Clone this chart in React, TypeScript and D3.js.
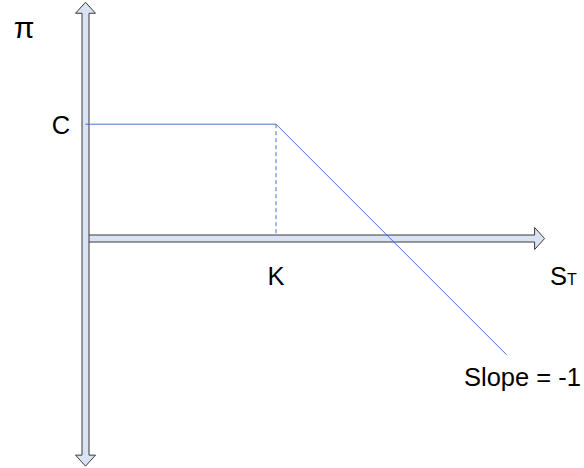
import React from "react";
import * as d3 from "d3";

// Conceptual data (units)
const strikeK = [10];
const premiumC = [6];
const payoffS = [0, 10, 22.1];
const payoffProfit = [6, 6, -6.1];
const xAxisExtent = [0, 24.1];
const yAxisExtent = [-11.95, 12.4];
const labels = { pi: "π", c: "C", k: "K", s: "S", sub: "T", slope: "Slope = -1" };

const W = 584;
const H = 468;

export default function App() {
  const x = d3.scaleLinear().domain([0, 24]).range([85.5, 85.5 + 24 * 19.05]);
  const y = d3.scaleLinear().domain([-12, 12]).range([238.5 + 12 * 19.05, 238.5 - 12 * 19.05]);

  const x0 = x(0);
  const y0 = y(0);

  const vs = 3.5;
  const vh = 10;
  const vl = 11;
  const vTop = y(yAxisExtent[1]);
  const vBot = y(yAxisExtent[0]);
  const vArrow = [
    [x0, vTop],
    [x0 + vh, vTop + vl],
    [x0 + vs, vTop + vl],
    [x0 + vs, vBot - vl],
    [x0 + vh, vBot - vl],
    [x0, vBot],
    [x0 - vh, vBot - vl],
    [x0 - vs, vBot - vl],
    [x0 - vs, vTop + vl],
    [x0 - vh, vTop + vl],
  ];

  const hs = 3.5;
  const hh = 11;
  const hl = 10;
  const hEnd = x(xAxisExtent[1]);
  const hStart = x(xAxisExtent[0]);
  const hArrow = [
    [hStart, y0 - hs],
    [hEnd - hl, y0 - hs],
    [hEnd - hl, y0 - hh],
    [hEnd, y0],
    [hEnd - hl, y0 + hh],
    [hEnd - hl, y0 + hs],
    [hStart, y0 + hs],
  ];

  const poly = (pts: number[][]) => "M" + pts.map((p) => p.join(",")).join("L") + "Z";

  const line = d3
    .line<number>()
    .x((_, i) => x(payoffS[i]))
    .y((d) => y(d));

  const font = "'Liberation Sans', Arial, sans-serif";

  return (
    <svg width={W} height={H} style={{ position: "absolute", left: 0, top: 0 }}>
      <rect width={W} height={H} fill="#fff" />
      <path d={poly(hArrow)} fill="#dae3f3" stroke="#3a3a3a" strokeWidth={1} />
      <path d={poly(vArrow)} fill="#dae3f3" stroke="#3a3a3a" strokeWidth={1} />
      <line
        x1={x(strikeK[0])}
        x2={x(strikeK[0])}
        y1={y(premiumC[0])}
        y2={y0 - hs}
        stroke="#4472c4"
        strokeWidth={1}
        strokeDasharray="4,3"
      />
      <path d={line(payoffProfit) || ""} fill="none" stroke="#4472c4" strokeWidth={1} />
      <g fontFamily={font} fill="#000" fontSize={25.5}>
        <text x={24} y={38} textAnchor="middle" fontSize={30}>{labels.pi}</text>
        <text x={61} y={134} textAnchor="middle">{labels.c}</text>
        <text x={x(strikeK[0])} y={285} textAnchor="middle">{labels.k}</text>
        <text x={550} y={285}>
          {labels.s}
          <tspan fontSize={16}>{labels.sub}</tspan>
        </text>
        <text x={464} y={386}>{labels.slope}</text>
      </g>
    </svg>
  );
}
